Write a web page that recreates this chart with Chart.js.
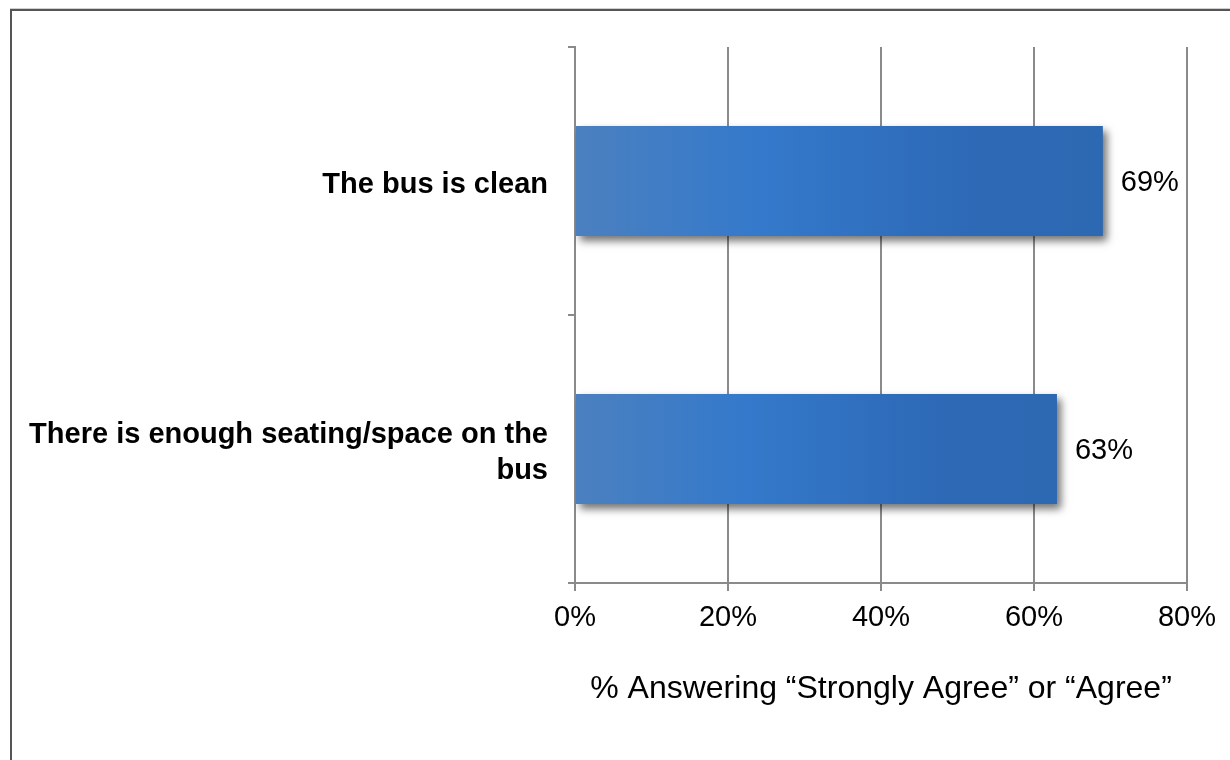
<!DOCTYPE html>
<html>
<head>
<meta charset="utf-8">
<title>Bus survey</title>
<script src="https://cdn.jsdelivr.net/npm/chart.js@4/dist/chart.umd.min.js"></script>
<style>
  html, body { margin: 0; padding: 0; background: #fff; }
  #wrap { width: 1230px; height: 760px; }
</style>
</head>
<body>
<div id="wrap"><canvas id="busChart" width="1230" height="760"></canvas></div>
<script>
  // Survey statements (second one wraps onto two lines)
  const statements = ['The bus is clean', ['There is enough seating/space on the', 'bus']];
  // % answering "Strongly Agree" or "Agree"
  const agreePct = [69, 63];
  const axisMin = 0;
  const axisMax = 80;
  const axisStep = 20;
  const axisTitle = '% Answering \u201cStrongly Agree\u201d or \u201cAgree\u201d';

  const FONT = "'Liberation Sans', Arial, Helvetica, sans-serif";
  const LINE = '#8a8a8a';
  Chart.defaults.font.family = FONT;
  Chart.defaults.color = '#000';

  // outer frame (left and top edges)
  const framePlugin = {
    id: 'frame',
    beforeDraw(chart) {
      const ctx = chart.ctx;
      ctx.save();
      ctx.strokeStyle = '#d0d0d0';
      ctx.lineWidth = 1;
      ctx.beginPath();
      ctx.moveTo(10, 8.5);
      ctx.lineTo(chart.width, 8.5);
      ctx.stroke();
      ctx.strokeStyle = '#555';
      ctx.lineWidth = 2;
      ctx.beginPath();
      ctx.moveTo(11, chart.height);
      ctx.lineTo(11, 10);
      ctx.lineTo(chart.width, 10);
      ctx.stroke();
      ctx.restore();
    }
  };

  // soft drop shadow under the bars
  const shadowPlugin = {
    id: 'barShadow',
    beforeDatasetDraw(chart) {
      const ctx = chart.ctx;
      ctx.save();
      ctx.shadowColor = 'rgba(0,0,0,0.55)';
      ctx.shadowBlur = 8;
      ctx.shadowOffsetX = 4;
      ctx.shadowOffsetY = 5;
    },
    afterDatasetDraw(chart) {
      chart.ctx.restore();
    }
  };

  // value labels to the right of each bar
  const valueLabels = {
    id: 'valueLabels',
    afterDatasetsDraw(chart) {
      const ctx = chart.ctx;
      const meta = chart.getDatasetMeta(0);
      ctx.save();
      ctx.font = '29px ' + FONT;
      ctx.fillStyle = '#000';
      ctx.textAlign = 'left';
      ctx.textBaseline = 'middle';
      meta.data.forEach((bar, i) => {
        ctx.fillText(agreePct[i] + '%', bar.x + 18, bar.y + 2);
      });
      ctx.restore();
    }
  };

  function barGradient(context) {
    const chart = context.chart;
    if (!chart.chartArea) return '#3a78c4';
    const xs = chart.scales.x;
    const x0 = xs.getPixelForValue(0);
    const x1 = xs.getPixelForValue(agreePct[context.dataIndex]);
    const g = chart.ctx.createLinearGradient(x0, 0, x1, 0);
    g.addColorStop(0, '#4b80bf');
    g.addColorStop(0.35, '#3479cb');
    g.addColorStop(0.75, '#2d69b6');
    g.addColorStop(1, '#2d68b3');
    return g;
  }

  const ctx = document.getElementById('busChart').getContext('2d');
  const busChart = new Chart(ctx, {
    type: 'bar',
    data: {
      labels: statements,
      datasets: [{
        data: agreePct,
        backgroundColor: barGradient,
        borderWidth: 0,
        barPercentage: 0.41,
        categoryPercentage: 1
      }]
    },
    options: {
      indexAxis: 'y',
      responsive: false,
      animation: false,
      layout: { padding: { left: 10, right: 43, top: 47, bottom: 52 } },
      plugins: {
        legend: { display: false },
        tooltip: { enabled: false }
      },
      scales: {
        x: {
          min: axisMin,
          max: axisMax,
          afterFit(scale) { scale.height = 125; },
          border: { color: LINE, width: 2 },
          grid: { color: LINE, lineWidth: 2, tickLength: 8 },
          ticks: {
            stepSize: axisStep,
            padding: 10,
            color: '#000',
            font: { size: 29 },
            callback: v => v + '%'
          },
          title: {
            display: true,
            text: axisTitle,
            color: '#000',
            font: { size: 32 },
            padding: { top: 0, bottom: 0 }
          }
        },
        y: {
          afterFit(scale) {
            scale.width = 565;
            scale.paddingTop = 0;
            scale.paddingBottom = 0;
          },
          border: { color: LINE, width: 2 },
          grid: { drawOnChartArea: false, color: LINE, lineWidth: 2, tickLength: 7, offset: true },
          ticks: {
            padding: 20,
            labelOffset: 4,
            color: '#000',
            font: { size: 29, weight: 'bold', lineHeight: 1.25 }
          }
        }
      }
    },
    plugins: [framePlugin, shadowPlugin, valueLabels]
  });
</script>
</body>
</html>
